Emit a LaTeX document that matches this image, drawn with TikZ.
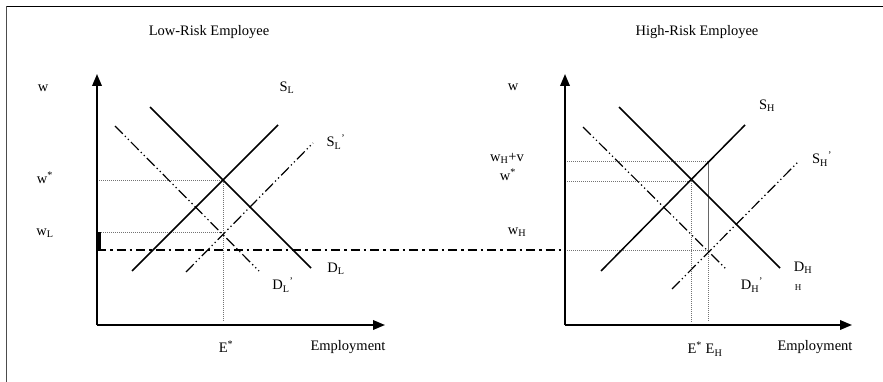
\documentclass[tikz,border=0pt]{standalone}
\usepackage{fontspec}
\setmainfont{Liberation Serif}
\usetikzlibrary{arrows.meta}
\begin{document}
\begin{tikzpicture}[x=1pt,y=-1pt,
  axis/.style={line width=1.9pt,-{Triangle[length=12pt,width=9.5pt]}},
  curve/.style={line width=1.5pt},
  shifted/.style={line width=1.2pt,dash pattern=on 11pt off 3pt on 1.3pt off 3pt on 1.3pt off 3pt},
  guide/.style={line width=0.9pt,black!55,dash pattern=on 1pt off 1pt},
  base/.style={line width=1.9pt,dash pattern=on 9pt off 4pt on 2.5pt off 4pt},
  lbl/.style={inner sep=0pt,font=\fontsize{14.5}{16}\selectfont},
  small/.style={inner sep=0pt,font=\fontsize{9}{10}\selectfont}]
\useasboundingbox (0,0) rectangle (883,382);
% frame
\coordinate (fbl) at (6.5,382);
\coordinate (ftl) at (6.5,6.5);
\coordinate (ftr) at (883,6.5);
\draw[line width=1.5pt,black!70] (fbl) -- (ftl);
\draw[line width=1.5pt] (ftl) -- (ftr);

% ===== Left panel =====
\coordinate (LO) at (97,325);
\coordinate (LY) at (97,74);
\coordinate (LX) at (385,325);
\node[lbl] (tL) at (209,32) {Low-Risk Employee};
\node[lbl] (wL0) at (43,88) {w};
\node[lbl] (wsL) at (45,178) {w\textsuperscript{*}};
\node[lbl] (wLL) at (45,233) {w\textsubscript{L}};
\node[lbl] (EsL) at (226,347) {E\textsuperscript{*}};
\node[lbl] (EmL) at (348,347) {Employment};
\node[lbl] (SLl) at (287,88) {S\textsubscript{L}};
\node[lbl] (SLp) at (336,142) {S\textsubscript{L}\textsuperscript{'}};
\node[lbl] (DLl) at (336,269) {D\textsubscript{L}};
\node[lbl] (DLp) at (283,285) {D\textsubscript{L}\textsuperscript{'}};

\coordinate (DLa) at (150,107);
\coordinate (DLb) at (311,268);
\coordinate (SLa) at (132,271);
\coordinate (SLb) at (278,125);
\coordinate (DPa) at (115,126);
\coordinate (DPb) at (259,271);
\coordinate (SPa) at (186,272);
\coordinate (SPb) at (313,143);
\coordinate (EqL) at (223,180);
\coordinate (EqL2) at (223,232);
\coordinate (EbL) at (223,322);
\coordinate (wsLa) at (97,180);
\coordinate (wLa) at (97,232);
\coordinate (barT) at (98.5,232);
\coordinate (barB) at (98.5,250);
\coordinate (baseL) at (97,250);

\draw[guide] (wsLa) -- (EqL);
\draw[guide] (wLa) -- (EqL2);
\draw[guide] (EqL) -- (EbL);
\draw[curve] (DLa) -- (DLb);
\draw[curve] (SLa) -- (SLb);
\draw[shifted] (DPa) -- (DPb);
\draw[shifted] (SPa) -- (SPb);

% ===== Right panel =====
\coordinate (RO) at (565,325);
\coordinate (RY) at (565,74);
\coordinate (RX) at (852,325);
\node[lbl] (tH) at (697,32) {High-Risk Employee};
\node[lbl] (wR0) at (513,87) {w};
\node[lbl] (wHv) at (507,158) {w\textsubscript{H}+v};
\node[lbl] (wsR) at (508,175) {w\textsuperscript{*}};
\node[lbl] (wHH) at (517,232) {w\textsubscript{H}};
\node[lbl] (EsR) at (705,349) {E\textsuperscript{*} E\textsubscript{H}};
\node[lbl] (EmR) at (815,347) {Employment};
\node[lbl] (SHl) at (767,106) {S\textsubscript{H}};
\node[lbl] (SHp) at (822,159) {S\textsubscript{H}\textsuperscript{'}};
\node[lbl] (DHl) at (803,268) {D\textsubscript{H}};
\node[small] (Hx) at (798,288) {H};
\node[lbl] (DHp) at (752,285) {D\textsubscript{H}\textsuperscript{'}};

\coordinate (DHa) at (619,107);
\coordinate (DHb) at (780,268);
\coordinate (SHa) at (601,271);
\coordinate (SHb) at (745,125);
\coordinate (DQa) at (583,127);
\coordinate (DQb) at (726,269);
\coordinate (SQa) at (672,289);
\coordinate (SQb) at (799,161);
\coordinate (EqR) at (691,181);
\coordinate (EbR) at (691,322);
\coordinate (wHvR) at (708,161);
\coordinate (wHR) at (708,250);
\coordinate (EhB) at (708,322);
\coordinate (wHva) at (565,161);
\coordinate (wsRa) at (565,181);
\coordinate (baseR) at (565,250);

\draw[guide] (wHva) -- (wHvR);
\draw[guide] (wsRa) -- (EqR);
\draw[guide] (baseR) -- (wHR);
\draw[guide] (EqR) -- (EbR);
\draw[guide] (wHR) -- (EhB);
\draw[line width=1pt,black!60] (wHvR) -- (wHR);
\draw[curve] (DHa) -- (DHb);
\draw[curve] (SHa) -- (SHb);
\draw[shifted] (DQa) -- (DQb);
\draw[shifted] (SQa) -- (SQb);

% base line across both panels
\draw[base] (baseL) -- (baseR);

% axes
\draw[axis] (LO) -- (LY);
\draw[axis] (LO) -- (LX);
\draw[axis] (RO) -- (RY);
\draw[axis] (RO) -- (RX);
\draw[line width=4pt] (barT) -- (barB);
\end{tikzpicture}
\end{document}
